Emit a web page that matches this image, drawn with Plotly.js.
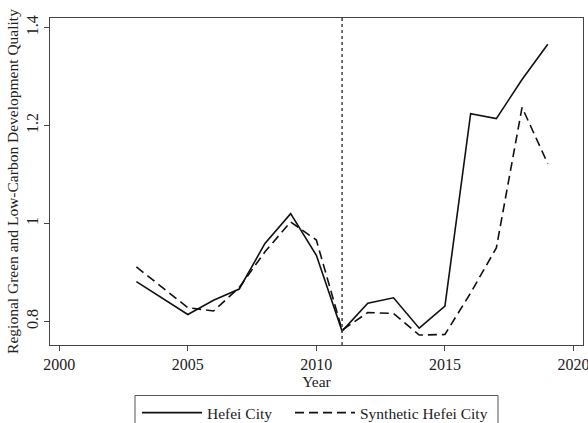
<!DOCTYPE html>
<html>
<head>
<meta charset="utf-8">
<script src="https://cdn.plot.ly/plotly-3.0.1.min.js"></script>
<style>html,body{margin:0;padding:0;background:#fff;}#chart{width:588px;height:423px;}</style>
</head>
<body>
<div id="chart"></div>
<script>
var years = [2003, 2004, 2005, 2006, 2007, 2008, 2009, 2010, 2011, 2012, 2013, 2014, 2015, 2016, 2017, 2018, 2019];
var hefei = [0.881, 0.848, 0.814, 0.843, 0.866, 0.959, 1.020, 0.935, 0.780, 0.837, 0.848, 0.786, 0.831, 1.224, 1.214, 1.294, 1.366];
var synthetic = [0.911, 0.870, 0.828, 0.821, 0.869, 0.942, 1.003, 0.966, 0.782, 0.818, 0.816, 0.772, 0.773, 0.858, 0.950, 1.237, 1.122];
var treatmentYear = 2011;
var seriesNames = ["Hefei City", "Synthetic Hefei City"];
var xTitle = "Year";
var yTitle = "Regional Green and Low-Carbon Development Quality";

var font = "Liberation Serif, Times New Roman, serif";
var traces = [
  {x: years, y: hefei, name: seriesNames[0], type: "scatter", mode: "lines", legend: "legend",
   line: {color: "#111", width: 1.6}},
  {x: years, y: synthetic, name: seriesNames[1], type: "scatter", mode: "lines", legend: "legend2",
   line: {color: "#111", width: 1.6, dash: "9px,5px"}}
];
var legendFont = {family: font, size: 15.5, color: "#222"};
var layout = {
  width: 588, height: 423,
  margin: {l: 50, r: 5, t: 18, b: 78},
  paper_bgcolor: "#fff", plot_bgcolor: "#fff",
  font: {family: font, size: 16, color: "#222"},
  showlegend: true,
  legend: {orientation: "h", xref: "container", yref: "container",
    x: 137/588, xanchor: "left", y: 1 - 396/423, yanchor: "top", itemwidth: 60,
    bgcolor: "rgba(0,0,0,0)", borderwidth: 0, font: legendFont},
  legend2: {orientation: "h", xref: "container", yref: "container",
    x: 290/588, xanchor: "left", y: 1 - 396/423, yanchor: "top", itemwidth: 60,
    bgcolor: "rgba(0,0,0,0)", borderwidth: 0, font: legendFont},
  xaxis: {range: [1999.64, 2020.37], tickvals: [2000, 2005, 2010, 2015, 2020],
    automargin: false, tickfont: {size: 16}, ticklabeloverflow: "allow",
    ticks: "outside", ticklen: 5, tickcolor: "#444", showgrid: false, zeroline: false,
    showline: true, linecolor: "#444", linewidth: 1, mirror: true,
    title: {text: xTitle, standoff: 0, font: {family: font, size: 15.5}}},
  yaxis: {range: [0.7516, 1.4196], tickvals: [0.8, 1, 1.2, 1.4], ticktext: ["0.8", "1", "1.2", "1.4"],
    automargin: false, tickfont: {size: 16}, ticklabeloverflow: "allow",
    tickangle: -90, ticks: "outside", ticklen: 5, tickcolor: "#444", showgrid: false, zeroline: false,
    showline: true, linecolor: "#444", linewidth: 1, mirror: true,
    title: {text: yTitle, standoff: 1, font: {family: font, size: 15.5}}},
  shapes: [
    {type: "line", xref: "x", yref: "paper", x0: treatmentYear, x1: treatmentYear, y0: 0, y1: 1,
     line: {color: "#444", width: 1.5, dash: "dot"}},
    {type: "rect", xref: "paper", yref: "paper", x0: (135 - 50) / 533, x1: (498 - 50) / 533,
     y0: (345 - 395.5) / 327, y1: (345 - 440) / 327, line: {color: "#555", width: 1}, fillcolor: "rgba(0,0,0,0)"}
  ]
};
Plotly.newPlot("chart", traces, layout, {displayModeBar: false, staticPlot: true});
</script>
</body>
</html>
